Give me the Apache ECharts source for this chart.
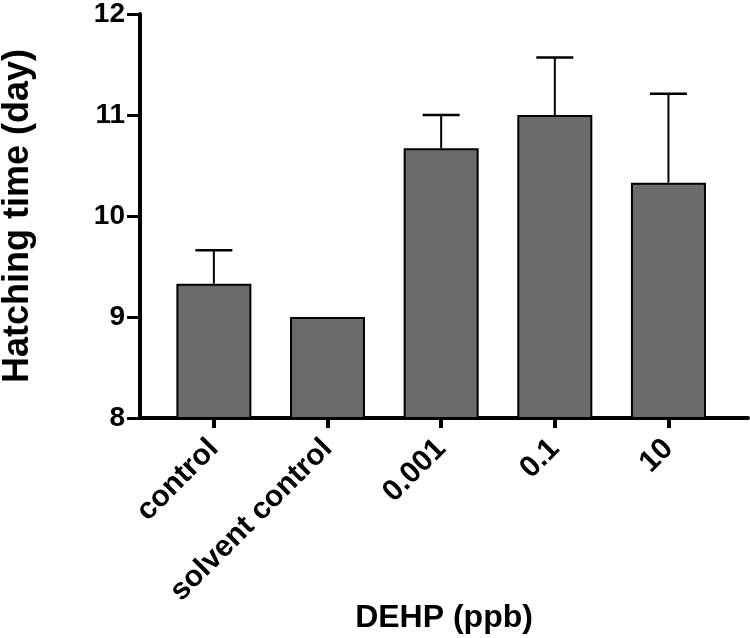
<!DOCTYPE html>
<html>
<head>
<meta charset="utf-8">
<script src="https://cdn.jsdelivr.net/npm/echarts@6/dist/echarts.min.js"></script>
<style>html,body{margin:0;padding:0;background:#fff}#c{width:750px;height:638px}</style>
</head>
<body>
<div id="c"></div>
<script>
const categories = ['control', 'solvent control', '0.001', '0.1', '10'];
const means = [9.33, 9.0, 10.67, 11.0, 10.33];
const errors = [0.33, 0, 0.33, 0.57, 0.88];
const yTicks = [8, 9, 10, 11, 12];

const positions = categories.map((c, i) => i);
const font = 'Liberation Sans, Arial, Helvetica, sans-serif';

const chart = echarts.init(document.getElementById('c'), null, {renderer: 'canvas'});
chart.setOption({
  animation: false,
  backgroundColor: '#ffffff',
  grid: {left: 140, right: 2, top: 14, bottom: 220, containLabel: false, outerBoundsMode: 'none'},
  xAxis: {
    type: 'value',
    min: -0.65,
    max: 4.7,
    name: 'DEHP (ppb)',
    nameLocation: 'middle',
    nameGap: 184,
    nameMoveOverlap: false,
    nameTextStyle: {fontFamily: font, fontWeight: 'bold', fontSize: 32, color: '#000'},
    axisLine: {show: true, onZero: false, lineStyle: {color: '#000', width: 4}},
    axisTick: {show: true, customValues: positions, length: 10, lineStyle: {color: '#000', width: 4}},
    axisLabel: {
      customValues: positions,
      formatter: v => categories[Math.round(v)],
      rotate: 45,
      margin: 26,
      padding: [32, 0, 0, 0],
      fontFamily: font, fontWeight: 'bold', fontSize: 30, color: '#000'
    },
    splitLine: {show: false}
  },
  yAxis: {
    type: 'value',
    min: yTicks[0],
    max: yTicks[yTicks.length - 1],
    interval: 1,
    name: 'Hatching time (day)',
    nameLocation: 'middle',
    nameGap: 104,
    nameMoveOverlap: false,
    nameTextStyle: {fontFamily: font, fontWeight: 'bold', fontSize: 36, color: '#000'},
    axisLine: {show: true, onZero: false, lineStyle: {color: '#000', width: 4}},
    axisTick: {show: true, length: 13, lineStyle: {color: '#000', width: 3}},
    axisLabel: {margin: 15, fontFamily: font, fontWeight: 'bold', fontSize: 28, color: '#000'},
    splitLine: {show: false}
  },
  series: [
    {
      type: 'bar',
      data: positions.map((p, i) => [p, means[i]]),
      barWidth: 75,
      itemStyle: {color: '#6b6b6b', borderColor: '#000', borderWidth: 2},
      z: 3
    },
    {
      type: 'custom',
      data: positions.map((p, i) => [p, means[i], errors[i]]),
      renderItem: function (params, api) {
        const x = api.value(0), m = api.value(1), e = api.value(2);
        if (!e) return null;
        const base = api.coord([x, m]);
        const top = api.coord([x, m + e]);
        const half = 18.5;
        return {
          type: 'group',
          children: [
            {type: 'line', shape: {x1: base[0], y1: base[1], x2: top[0], y2: top[1]}, style: {stroke: '#000', lineWidth: 2}},
            {type: 'line', shape: {x1: top[0] - half, y1: top[1], x2: top[0] + half, y2: top[1]}, style: {stroke: '#000', lineWidth: 2.5}}
          ]
        };
      },
      z: 2
    }
  ]
});
</script>
</body>
</html>
